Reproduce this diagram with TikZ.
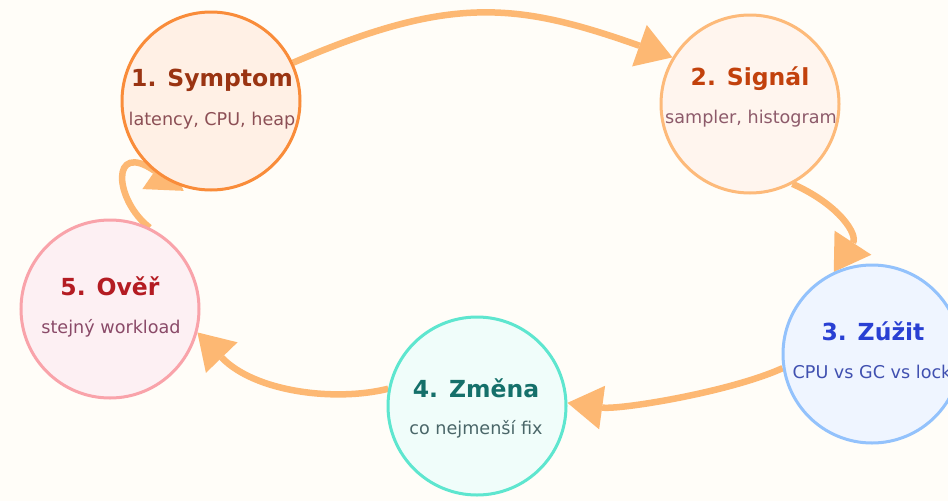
\documentclass[tikz,border=0pt]{standalone}
\usepackage{fontspec}
\setmainfont{DejaVu Sans}
\usetikzlibrary{arrows.meta}
\pgfdeclarelayer{bg}
\pgfdeclarelayer{links}
\pgfsetlayers{bg,links,main}
\definecolor{bgc}{HTML}{FFFDF8}
\definecolor{arrowc}{HTML}{FDB873}
\definecolor{s1d}{HTML}{F98C3A}\definecolor{s1f}{HTML}{FFF0E5}\definecolor{s1t}{HTML}{9A3412}\definecolor{s1s}{HTML}{8C4F55}
\definecolor{s2d}{HTML}{FDBA7A}\definecolor{s2f}{HTML}{FFF5EE}\definecolor{s2t}{HTML}{C2410C}\definecolor{s2s}{HTML}{8D5A6A}
\definecolor{s3d}{HTML}{93C2FC}\definecolor{s3f}{HTML}{EFF5FF}\definecolor{s3t}{HTML}{2940D3}\definecolor{s3s}{HTML}{4050B0}
\definecolor{s4d}{HTML}{5EE6CF}\definecolor{s4f}{HTML}{F0FDFA}\definecolor{s4t}{HTML}{15706A}\definecolor{s4s}{HTML}{4A6668}
\definecolor{s5d}{HTML}{F9A3AA}\definecolor{s5f}{HTML}{FDF0F3}\definecolor{s5t}{HTML}{B41C22}\definecolor{s5s}{HTML}{8A4A68}
\begin{document}
\begin{tikzpicture}[x=1pt,y=-1pt,
  stage/.style={circle, minimum size=178pt, inner sep=0pt, line width=3pt},
  ttl/.style={anchor=base, font=\fontsize{23.5}{28}\selectfont\bfseries},
  sub/.style={anchor=base, font=\fontsize{17.6}{21}\selectfont},
  link/.style={draw=arrowc, line width=6.5pt, -{Triangle[length=35pt,width=44pt,line width=0pt]}}]
\useasboundingbox (0,0) rectangle (948,501);
\clip (0,0) rectangle (948,501);
\begin{pgfonlayer}{bg}
\fill[bgc] (0,0) rectangle (948,501);
\end{pgfonlayer}
% stages
\node[stage, draw=s1d, fill=s1f] (s1) at (211,101) {};
\node[stage, draw=s2d, fill=s2f] (s2) at (750,104) {};
\node[stage, draw=s3d, fill=s3f] (s3) at (872,354) {};
\node[stage, draw=s4d, fill=s4f] (s4) at (477,406) {};
\node[stage, draw=s5d, fill=s5f] (s5) at (110,309) {};
% labels
\node[ttl, text=s1t] (t1) at (212,86) {1. Symptom};
\node[sub, text=s1s] (u1) at (212,125) {latency, CPU, heap};
\node[ttl, text=s2t] (t2) at (750,85) {2. Signál};
\node[sub, text=s2s] (u2) at (751,123) {sampler, histogram};
\node[ttl, text=s3t] (t3) at (873,340) {3. Zúžit};
\node[sub, text=s3s] (u3) at (872,378) {CPU vs GC vs lock};
\node[ttl, text=s4t] (t4) at (476,397) {4. Změna};
\node[sub, text=s4s] (u4) at (476,434) {co nejmenší fix};
\node[ttl, text=s5t] (t5) at (110,295) {5. Ověř};
\node[sub, text=s5s] (u5) at (111,333) {stejný workload};
% connectors
\begin{pgfonlayer}{links}
\draw[link] (s1.25) .. controls (450,-5) and (516,2) .. (s2.149.5);
\draw[link] (s2.-62) .. controls (840,205) and (858,235) .. (s3.115);
\draw[link] (s3.189) .. controls (730,392) and (620,410) .. (s4.2.5);
\draw[link] (s4.169) .. controls (335,402) and (255,392) .. (s5.-15);
\draw[link, shorten >=-15pt] (s5.64) .. controls (114,200) and (110,140) .. (s1.244);
\end{pgfonlayer}
\end{tikzpicture}
\end{document}
